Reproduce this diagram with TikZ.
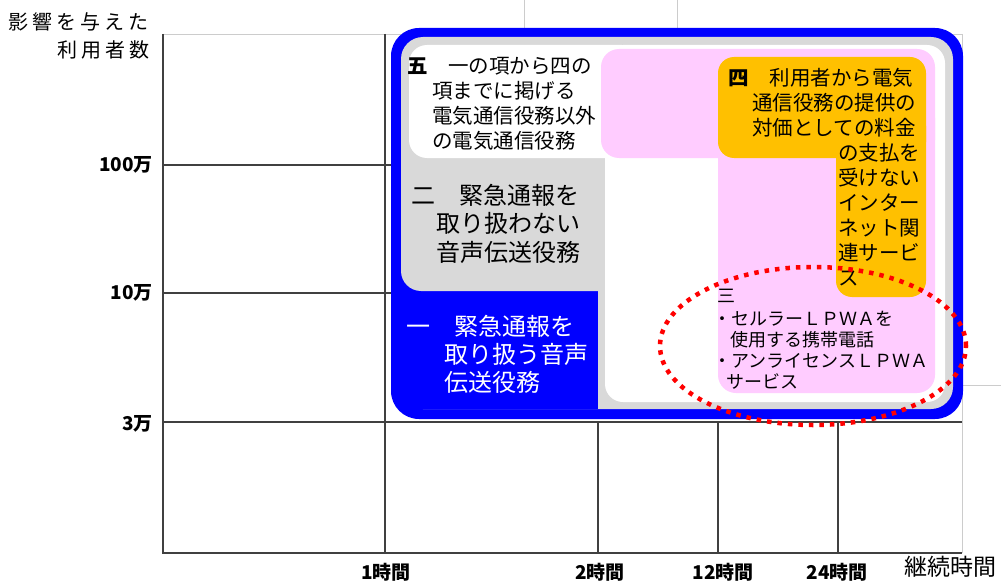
\documentclass[tikz,border=0pt]{standalone}
\usepackage{fontspec}
\setmainfont{Noto Sans CJK JP}
\usepackage{tikz}
\usetikzlibrary{positioning}
\definecolor{frameblue}{RGB}{0,0,255}
\definecolor{ringgray}{RGB}{217,217,217}
\definecolor{lpwapink}{RGB}{255,204,255}
\definecolor{netorange}{RGB}{255,192,0}

\begin{document}
\begin{tikzpicture}[
x=1pt,y=-1pt,
GridLines/.style={draw=black!75,line width=1.2pt},
FaintLines/.style={draw=black!20,line width=0.8pt},
BoxText/.style={anchor=north west,inner sep=0pt,align=left,font=\fontsize{20.5}{25}\selectfont},
TickLabels/.style={inner sep=0pt,font=\bfseries\fontsize{19}{22}\selectfont},
AxisTitle/.style={inner sep=0pt,font=\fontsize{20}{24}\selectfont\addfontfeature{LetterSpace=20}}
]
\useasboundingbox (0,0) rectangle (1001,583);

% grid
\draw[FaintLines] (524,0) -- (524,28);
\draw[FaintLines] (677,0) -- (677,28);
\draw[FaintLines] (163,34) -- (962,34);
\draw[FaintLines] (962,34) -- (962,553);
\draw[FaintLines] (962,385) -- (1001,385);
\foreach \y in {165,293,422} \draw[GridLines] (163,\y) -- (962,\y);
\draw[GridLines] (163,34) -- (163,553) -- (962,553);
\draw[GridLines] (385,34) -- (385,553);
\foreach \x in {598,718,838} \draw[GridLines] (\x,422) -- (\x,553);

% frame and areas
\fill[frameblue,rounded corners=28pt] (391,28) rectangle (963,419);
\fill[ringgray,rounded corners=22pt] (401,37) rectangle (953,409);
\fill[frameblue] (401,260) rectangle (598,409);
\fill[ringgray,rounded corners=20pt] (401,120) rectangle (630,291);
\fill[white,rounded corners=18pt] (605,45) rectangle (945,402);
\fill[white,rounded corners=18pt] (409,45) rectangle (640,158);
\fill[lpwapink,rounded corners=18pt] (601,49) rectangle (935,158);
\fill[lpwapink,rounded corners=18pt] (718,100) rectangle (935,393);
\fill[netorange,rounded corners=16pt] (718,57) rectangle (926,158);
\fill[netorange,rounded corners=16pt] (836,110) rectangle (926,297);

% texts in the areas
\node[BoxText] (five) at (407,57) {{\bfseries 五}　一の項から四の\\\hspace*{25pt}項までに掲げる\\\hspace*{25pt}電気通信役務以外\\\hspace*{25pt}の電気通信役務};
\node[BoxText,font=\fontsize{24}{28.5}\selectfont] (two) at (411,184) {二　緊急通報を\\\hspace*{25pt}取り扱わない\\\hspace*{25pt}音声伝送役務};
\node[BoxText,font=\fontsize{24}{28}\selectfont,text=white] (one) at (406,315) {一　緊急通報を\\\hspace*{38pt}取り扱う音声\\\hspace*{38pt}伝送役務};
\node[BoxText] (four) at (728.5,68) {{\bfseries 四}　利用者から電気\\\hspace*{23.5pt}通信役務の提供の\\\hspace*{23.5pt}対価としての料金\\\hspace*{109.5pt}の支払を\\\hspace*{109.5pt}受けない\\\hspace*{109.5pt}インター\\\hspace*{109.5pt}ネット関\\\hspace*{109.5pt}連サービ\\\hspace*{109.5pt}ス};
\node[BoxText,font=\fontsize{18}{21}\selectfont] (three) at (713,289) {\hspace*{4.5pt}三\\[2pt]・セルラーＬＰＷＡを\\\hspace*{17pt}使用する携帯電話\\・アンライセンスＬＰＷＡ\\\hspace*{13pt}サービス};

% marked area
\draw[red,line width=4.5pt,dash pattern=on 4.5pt off 6pt] (813,346) ellipse [x radius=153pt, y radius=79pt];

% axis labels
\node[AxisTitle,anchor=west] (ytitleA) at (8,22) {影響を与えた};
\node[AxisTitle,anchor=west] (ytitleB) at (57,50) {利用者数};
\node[TickLabels,anchor=east] (u100) at (153,165) {100万};
\node[TickLabels,anchor=east] (u10) at (153,293) {10万};
\node[TickLabels,anchor=east] (u3) at (153,424) {3万};
\node[TickLabels] (h1) at (386,572) {1時間};
\node[TickLabels] (h2) at (600,572) {2時間};
\node[TickLabels] (h12) at (723,572) {12時間};
\node[TickLabels] (h24) at (837,572) {24時間};
\node[inner sep=0pt,font=\fontsize{23}{26}\selectfont] (xtitle) at (950,567) {継続時間};

\end{tikzpicture}
\end{document}
